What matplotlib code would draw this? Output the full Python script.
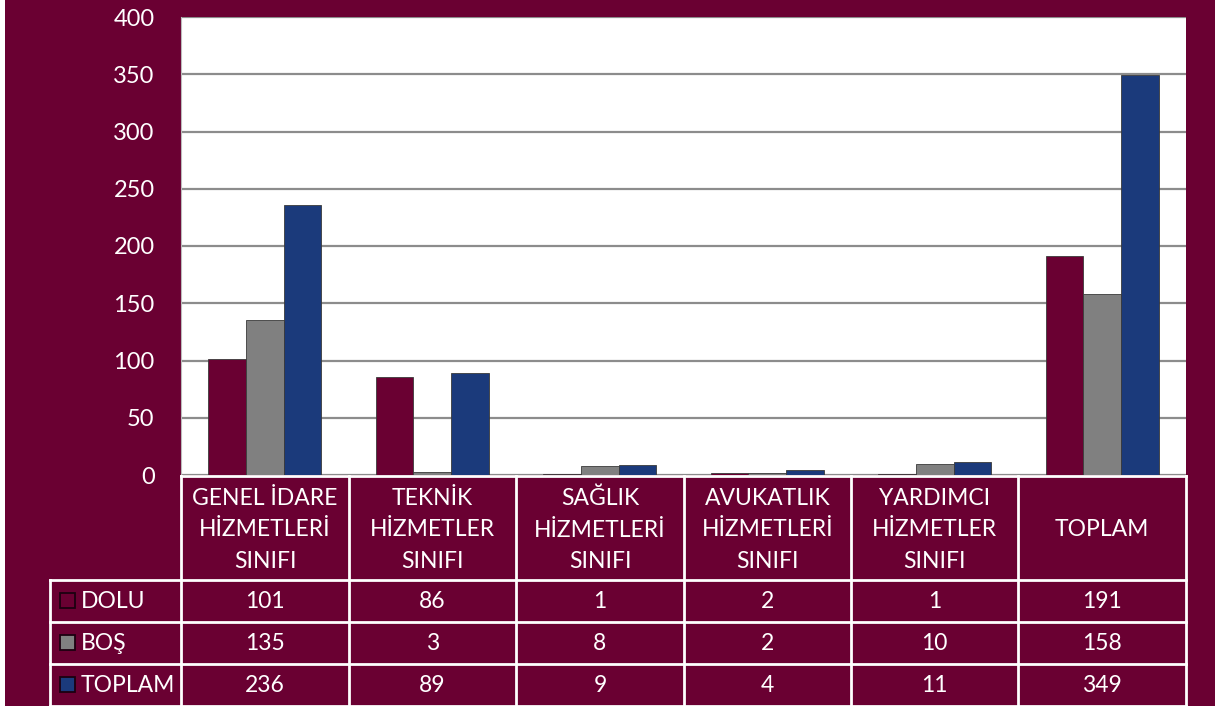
import numpy as np
import matplotlib.pyplot as plt
from matplotlib.patches import Rectangle

plt.rcParams['font.family'] = ['Lato', 'DejaVu Sans']

categories = ["GENEL İDARE\nHİZMETLERİ\nSINIFI", "TEKNİK\nHİZMETLER\nSINIFI",
              "SAĞLIK\nHİZMETLERİ\nSINIFI", "AVUKATLIK\nHİZMETLERİ\nSINIFI",
              "YARDIMCI\nHİZMETLER\nSINIFI", "TOPLAM"]
series_names = ["DOLU", "BOŞ", "TOPLAM"]
dolu = [101, 86, 1, 2, 1, 191]
bos = [135, 3, 8, 2, 10, 158]
toplam = [236, 89, 9, 4, 11, 349]
yticks = [0, 50, 100, 150, 200, 250, 300, 350, 400]

BG = "#6A0032"
colors = ["#6A0032", "#808080", "#1B3A7B"]
W, H = 1215, 706

fig = plt.figure(figsize=(12.15, 7.06), dpi=100)
fig.patch.set_facecolor(BG)

# plot area in pixel terms
left, right, top, bottom = 181, 1186, 17, 475
ax = fig.add_axes([left / W, 1 - bottom / H, (right - left) / W, (bottom - top) / H])
ax.set_facecolor("white")

x = np.arange(len(categories))
bw = 0.225
for i, vals in enumerate([dolu, bos, toplam]):
    ax.bar(x + (i - 1) * bw, vals, bw, color=colors[i], edgecolor="#3a3a3a",
           linewidth=0.6, zorder=3)

ax.set_xlim(-0.5, len(categories) - 0.5)
ax.set_ylim(0, 400)
ax.set_yticks(yticks)
ax.yaxis.grid(True, color="#8C8C8C", linewidth=1.6, zorder=0)
ax.set_xticks([])
ax.tick_params(axis="y", length=0, pad=19, labelsize=17, labelcolor="white")
for s in ["top", "right", "bottom"]:
    ax.spines[s].set_visible(False)
ax.spines["left"].set_color("#BBBBBB")

# data table below the plot
tab = fig.add_axes([0, 0, 1, 1])
tab.set_xlim(0, W)
tab.set_ylim(H, 0)
tab.axis("off")
tab.patch.set_alpha(0)

cols = [181, 349, 516, 684, 851, 1018, 1186]
rows = [476, 580, 622, 664, 706]
lab_left = 50
lc = "white"
lw = 2

tab.plot([cols[0], cols[-1]], [rows[0], rows[0]], color=lc, lw=lw)
for yy in rows[1:]:
    tab.plot([lab_left, cols[-1]], [yy, yy], color=lc, lw=lw)
for xx in cols:
    tab.plot([xx, xx], [rows[0], rows[-1]], color=lc, lw=lw)
tab.plot([lab_left, lab_left], [rows[1], rows[-1]], color=lc, lw=lw)

for j, cat in enumerate(categories):
    cx = (cols[j] + cols[j + 1]) / 2
    tab.text(cx, (rows[0] + rows[1]) / 2 + 2, cat, ha="center", va="center",
             color="white", fontsize=16.5, linespacing=1.62)

for i, (name, vals) in enumerate(zip(series_names, [dolu, bos, toplam])):
    cy = (rows[i + 1] + rows[i + 2]) / 2
    tab.add_patch(Rectangle((60, cy - 8), 15, 15, facecolor=colors[i],
                            edgecolor="#1c0010", lw=1.3))
    tab.text(81, cy + 1, name, ha="left", va="center", color="white", fontsize=16.5)
    for j, v in enumerate(vals):
        cx = (cols[j] + cols[j + 1]) / 2
        tab.text(cx, cy + 1, str(v), ha="center", va="center", color="white",
                 fontsize=16.5)

# thin white strip along the left edge
tab.add_patch(Rectangle((0, 0), 5, H, facecolor="white", edgecolor="none"))

fig.savefig("out.png", dpi=100, facecolor=BG)
